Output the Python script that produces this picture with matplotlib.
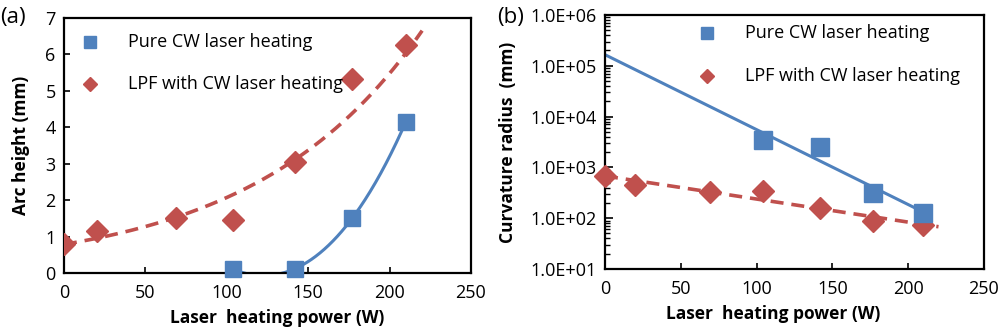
import numpy as np
import matplotlib.pyplot as plt

plt.rcParams['font.family'] = ['Open Sans', 'DejaVu Sans']

BLUE = '#4F81BD'
RED = '#C0504D'

# arc height (mm) vs laser heating power (W)
pure_power = [104, 142, 177, 210]
pure_arc = [0.10, 0.12, 1.50, 4.15]
lpf_power = [0, 20, 69, 104, 142, 177, 210]
lpf_arc = [0.80, 1.15, 1.50, 1.45, 3.05, 5.33, 6.25]

# curvature radius (mm) vs laser heating power (W)
pure_radius = [3490, 2510, 312, 126]
lpf_radius = [684, 455, 323, 338, 158, 87, 74]

xticks = [0, 50, 100, 150, 200, 250]
legend_labels = ['Pure CW laser heating', 'LPF with CW laser heating']


def exp_fit(x, y, x_new):
    k, b = np.polyfit(x, np.log(y), 1)
    return np.exp(b + k * np.asarray(x_new))


def style_axes(ax, xlab_x):
    for s in ax.spines.values():
        s.set_linewidth(1.6)
    ax.tick_params(direction='in', labelsize=13, length=4, width=1.2, pad=6)
    ax.tick_params(axis='x', pad=8)
    ax.set_xlim(0, 250)
    ax.set_xticks(xticks)
    ax.set_xlabel('Laser  heating power (W)', fontsize=12.5, fontweight='bold')
    ax.xaxis.set_label_coords(xlab_x, -0.14)


def legend(ax, xm, xt, y0, y1):
    ax.plot([xm], [y0], 's', color=BLUE, ms=8, transform=ax.transAxes, clip_on=False)
    ax.plot([xm], [y1], 'D', color=RED, ms=7, transform=ax.transAxes, clip_on=False)
    ax.text(xt, y0, legend_labels[0], transform=ax.transAxes, fontsize=13, va='center')
    ax.text(xt, y1, legend_labels[1], transform=ax.transAxes, fontsize=13, va='center')


fig = plt.figure(figsize=(10.01, 3.28), dpi=100)

# (a) arc height
ax1 = fig.add_axes([0.0639, 0.1677, 0.4066, 0.7774])
xs = np.linspace(0, 220, 200)
ax1.plot(xs, exp_fit(lpf_power, lpf_arc, xs), '--', color=RED, lw=2.6, dashes=(3.6, 2.2), zorder=2)
p = np.polyfit(pure_power, pure_arc, 3)
xp = np.linspace(pure_power[0], pure_power[-1], 200)
ax1.plot(xp, np.polyval(p, xp), '-', color=BLUE, lw=2.2, zorder=2)
ax1.plot(lpf_power, lpf_arc, 'D', color=RED, ms=11, ls='none', zorder=3)
ax1.plot(pure_power, pure_arc, 's', color=BLUE, ms=11, ls='none', zorder=3, clip_on=False)
style_axes(ax1, 0.523)
ax1.set_ylim(0, 7)
ax1.set_yticks(range(8))
ax1.set_ylabel('Arc height (mm)', fontsize=12.5, fontweight='bold')
ax1.yaxis.set_label_coords(-0.083, 0.5)
legend(ax1, 0.063, 0.158, 0.905, 0.74)
fig.text(0.0, 0.948, '(a)', fontsize=16, va='center')

# (b) curvature radius
ax2 = fig.add_axes([0.6044, 0.1799, 0.3786, 0.7744])
ax2.set_yscale('log')
xs = np.linspace(0, 220, 200)
ax2.plot(xs, exp_fit(lpf_power, lpf_radius, xs), '--', color=RED, lw=2.6, dashes=(3.6, 2.2), zorder=2)
xs = np.linspace(0, 210, 200)
ax2.plot(xs, exp_fit(pure_power, pure_radius, xs), '-', color=BLUE, lw=2.2, zorder=2)
ax2.plot(lpf_power, lpf_radius, 'D', color=RED, ms=11.5, ls='none', zorder=3, clip_on=False)
ax2.plot(pure_power, pure_radius, 's', color=BLUE, ms=12.5, ls='none', zorder=3)
style_axes(ax2, 0.443)
ax2.set_ylim(10, 1e6)
ax2.set_yticks([10 ** k for k in range(1, 7)])
ax2.set_yticklabels(['1.0E+%02d' % k for k in range(1, 7)])
ax2.tick_params(axis='y', which='major', length=6)
ax2.tick_params(axis='y', which='minor', direction='in', length=3.5, width=1.0)
ax2.set_ylabel('Curvature radius  (mm)', fontsize=12.5, fontweight='bold')
ax2.yaxis.set_label_coords(-0.232, 0.5)
legend(ax2, 0.27, 0.37, 0.93, 0.76)
fig.text(0.497, 0.948, '(b)', fontsize=16, va='center')

fig.savefig('out.png', dpi=100)
